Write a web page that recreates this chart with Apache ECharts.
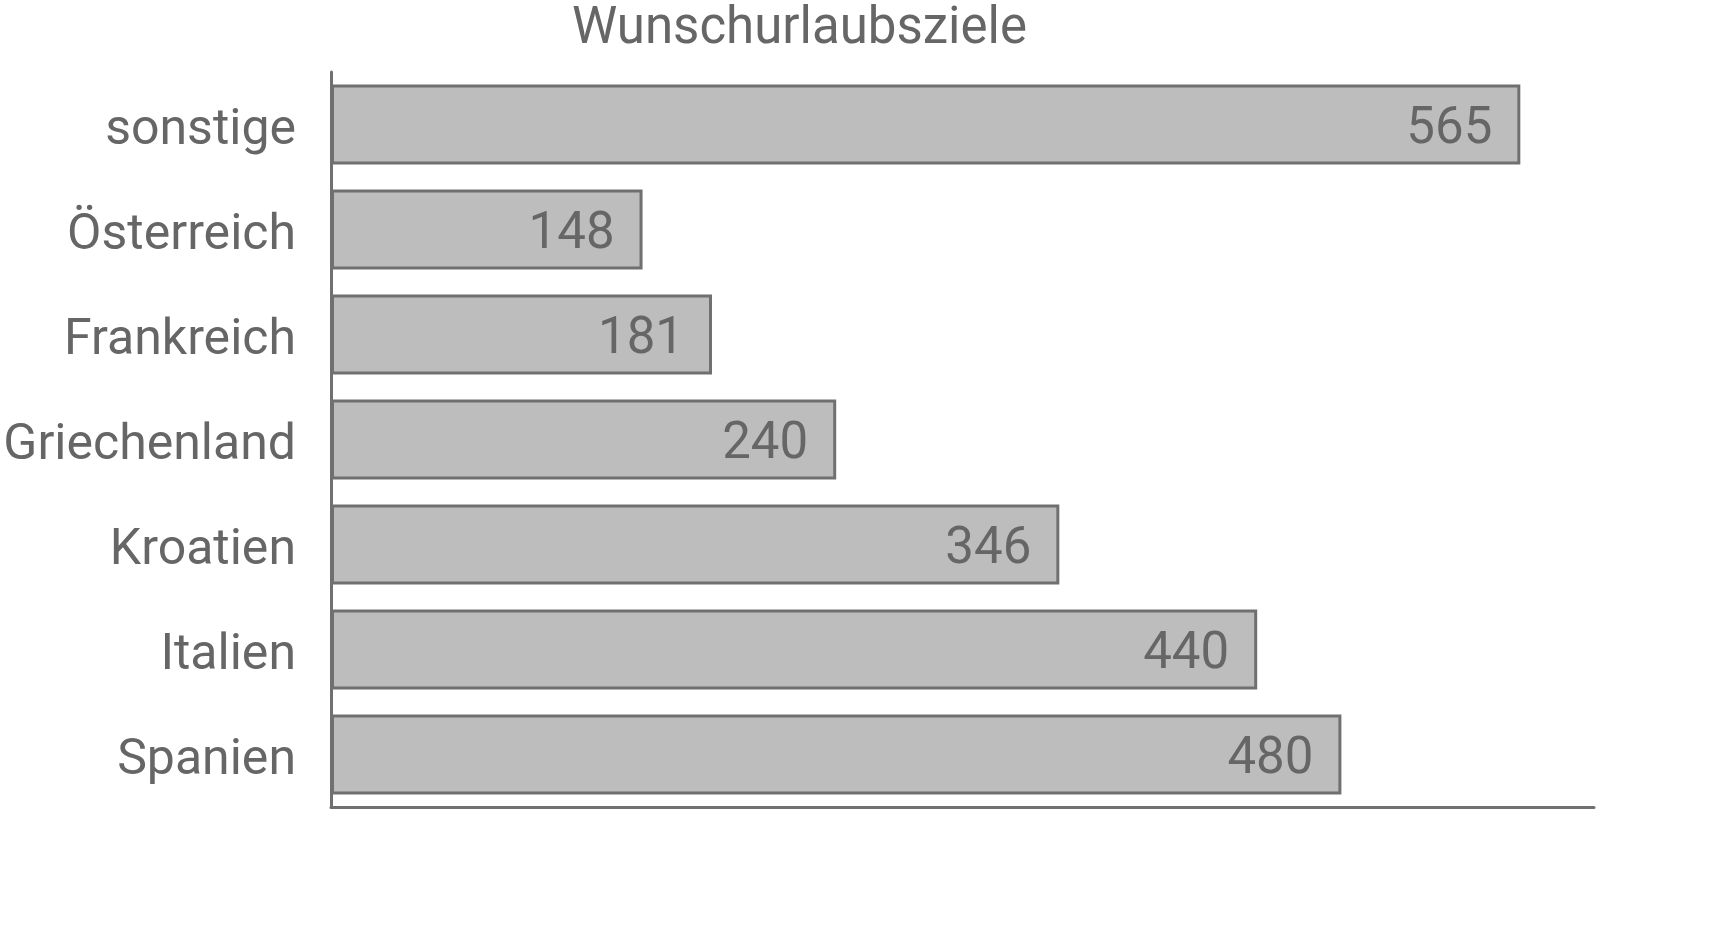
<!DOCTYPE html>
<html>
<head>
<meta charset="utf-8">
<script src="https://cdn.jsdelivr.net/npm/echarts@6/dist/echarts.min.js"></script>
<style>
html,body{margin:0;padding:0;background:#fff;}
#chart{width:1714px;height:925px;}
</style>
</head>
<body>
<div id="chart"></div>
<script>
const titleText = "Wunschurlaubsziele";
const categories = ["Spanien", "Italien", "Kroatien", "Griechenland", "Frankreich", "Österreich", "sonstige"];
const values = [480, 440, 346, 240, 181, 148, 565];

const chart = echarts.init(document.getElementById('chart'));
const textColor = '#666666';
const lineColor = '#707070';
chart.setOption({
  animation: false,
  backgroundColor: '#ffffff',
  title: {
    text: titleText,
    left: 567,
    top: 0,
    textStyle: { fontFamily: 'Roboto', fontSize: 51, fontWeight: 'normal', color: textColor }
  },
  grid: { left: 331, right: 120, top: 72, bottom: 118, containLabel: false },
  xAxis: {
    type: 'value', min: 0, max: 600,
    axisLine: { show: true, lineStyle: { color: lineColor, width: 3 } },
    axisTick: { show: false }, axisLabel: { show: false }, splitLine: { show: false }
  },
  yAxis: {
    type: 'category', data: categories,
    axisLine: { show: true, lineStyle: { color: lineColor, width: 3 } },
    axisTick: { show: false },
    axisLabel: {
      margin: 35,
      formatter: '{a|{value}}',
      rich: { a: { fontFamily: 'Roboto', fontSize: 50, color: textColor, padding: [14, 0, 0, 0] } }
    }
  },
  series: [{
    type: 'bar', data: values, barWidth: '76%',
    itemStyle: { color: '#bcbdbc', borderColor: lineColor, borderWidth: 3 },
    label: { show: true, position: 'insideRight', distance: 28, offset: [0, 6], fontFamily: 'Roboto', fontSize: 51, color: textColor }
  }]
});
</script>
</body>
</html>
